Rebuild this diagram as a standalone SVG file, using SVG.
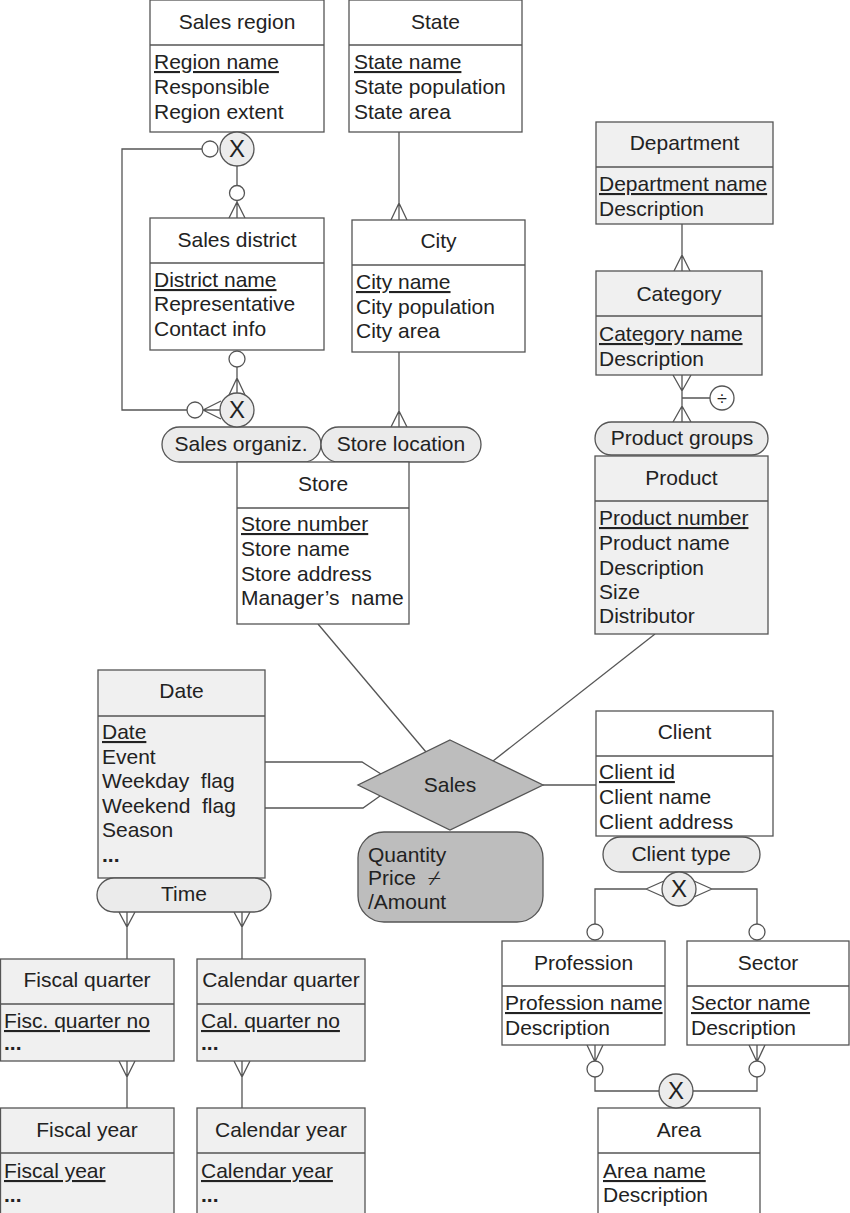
<svg xmlns="http://www.w3.org/2000/svg" width="850" height="1213" viewBox="0 0 850 1213">
<style>
.b{fill:#fff;stroke:#555;stroke-width:1.3}
.g{fill:#f0f0f0}
.t{font-family:"Liberation Sans",Arial,sans-serif;font-size:21px;fill:#222;white-space:pre}
.c{text-anchor:middle}
.k{text-decoration:underline}
.l{stroke:#555;stroke-width:1.3;fill:none}
.p{fill:#ebebeb;stroke:#555;stroke-width:1.3}
.x{fill:#ececec;stroke:#555;stroke-width:1.3}
.o{fill:#fff;stroke:#555;stroke-width:1.3}
.s{fill:#bdbdbd;stroke:#555;stroke-width:1.3}
.d{font-weight:bold}
.xt{font-size:24px}
</style>
<g id="connectors">
<path class="l" d="M237,166 V186 M237,200 V218 M229,218 L237,202 L245,218"/>
<path class="l" d="M202,149 H122 V410 H187"/>
<path class="l" d="M237,367 V393 M229,395 L237,378 L245,395"/>
<path class="l" d="M203,410 L221,401 M203,410 L221,419 M203,410 H220"/>
<path class="l" d="M399,132 V220 M391,220 L399,203 L407,220"/>
<path class="l" d="M399,352 V427 M391,427 L399,411 L407,427"/>
<path class="l" d="M682,224 V271 M674,271 L682,255 L690,271"/>
<path class="l" d="M682,375 V422 M673,375 L682,391 L691,375 M673,422 L682,406 L691,422 M682,398 H710"/>
<path class="l" d="M318,624 L426,752"/>
<path class="l" d="M655,634 L493,761"/>
<path class="l" d="M543,785 H596"/>
<path class="l" d="M265,762 H362 L381,774"/>
<path class="l" d="M265,808 H363 L380,796"/>
<path class="l" d="M127,912 V959 M119,912 L127,927 L135,912"/>
<path class="l" d="M242,912 V959 M234,912 L242,927 L250,912"/>
<path class="l" d="M127,1061 V1108 M119,1061 L127,1077 L135,1061"/>
<path class="l" d="M242,1061 V1108 M234,1061 L242,1077 L250,1061"/>
<path class="l" d="M646,889 H595 V924 M646,889 L664,881 M646,889 L664,897"/>
<path class="l" d="M712,889 H757 V924 M712,889 L694,881 M712,889 L694,897"/>
<path class="l" d="M595,1045 V1062 M587,1045 L595,1062 L603,1045 M595,1077 V1091 H659"/>
<path class="l" d="M757,1045 V1062 M749,1045 L757,1062 L765,1045 M757,1077 V1091 H693"/>
<circle class="o" cx="210" cy="149" r="8"/>
<circle class="o" cx="237" cy="193" r="7.5"/>
<circle class="o" cx="237" cy="359" r="8"/>
<circle class="o" cx="195" cy="410" r="8"/>
<circle class="o" cx="722" cy="398" r="12"/>
<text class="t c" x="722" y="405" style="font-size:18px">÷</text>
<circle class="o" cx="595" cy="932" r="8"/>
<circle class="o" cx="757" cy="932" r="8"/>
<circle class="o" cx="595" cy="1069" r="8"/>
<circle class="o" cx="757" cy="1069" r="8"/>
</g>
<g id="sales-region"><rect class="b" x="150" y="0" width="174" height="132"/><line class="l" x1="150" y1="45" x2="324" y2="45"/>
<text class="t c" x="237" y="29">Sales region</text><text class="t k" x="154" y="69">Region name</text><text class="t" x="154" y="94">Responsible</text><text class="t" x="154" y="119">Region extent</text></g>
<g id="state"><rect class="b" x="349" y="0" width="173" height="132"/><line class="l" x1="349" y1="45" x2="522" y2="45"/>
<text class="t c" x="435.5" y="29">State</text><text class="t k" x="354" y="69">State name</text><text class="t" x="354" y="94">State population</text><text class="t" x="354" y="119">State area</text></g>
<g id="department"><rect class="b g" x="596" y="122" width="177" height="102"/><line class="l" x1="596" y1="167" x2="773" y2="167"/>
<text class="t c" x="684.5" y="150">Department</text><text class="t k" x="599" y="191">Department name</text><text class="t" x="599" y="216">Description</text></g>
<g id="sales-district"><rect class="b" x="150" y="218" width="174" height="132"/><line class="l" x1="150" y1="263" x2="324" y2="263"/>
<text class="t c" x="237" y="247">Sales district</text><text class="t k" x="154" y="287">District name</text><text class="t" x="154" y="311">Representative</text><text class="t" x="154" y="336">Contact info</text></g>
<g id="city"><rect class="b" x="352" y="220" width="173" height="132"/><line class="l" x1="352" y1="265" x2="525" y2="265"/>
<text class="t c" x="438.5" y="248">City</text><text class="t k" x="356" y="289">City name</text><text class="t" x="356" y="314">City population</text><text class="t" x="356" y="338">City area</text></g>
<g id="category"><rect class="b g" x="596" y="271" width="166" height="104"/><line class="l" x1="596" y1="316" x2="762" y2="316"/>
<text class="t c" x="679" y="301">Category</text><text class="t k" x="599" y="341">Category name</text><text class="t" x="599" y="366">Description</text></g>
<g id="sales-organiz"><rect class="p" x="162" y="427" width="159" height="35" rx="17.5"/><text class="t c" x="241" y="451">Sales organiz.</text>
<circle class="x" cx="237" cy="410" r="17"/><text class="t c xt" x="237" y="418">X</text></g>
<g id="sales-region-x"><circle class="x" cx="237" cy="149" r="17"/><text class="t c xt" x="237" y="157">X</text></g>
<g id="store-location"><rect class="p" x="321" y="427" width="160" height="35" rx="17.5"/><text class="t c" x="401" y="451">Store location</text></g>
<g id="product-groups"><rect class="p" x="595" y="422" width="173" height="33" rx="16.5"/><text class="t c" x="682" y="445">Product groups</text></g>
<g id="store"><rect class="b" x="237" y="462" width="172" height="162"/><line class="l" x1="237" y1="508" x2="409" y2="508"/>
<text class="t c" x="323" y="491">Store</text><text class="t k" x="241" y="531">Store number</text><text class="t" x="241" y="556">Store name</text><text class="t" x="241" y="581">Store address</text><text class="t" x="241" y="605">Manager’s  name</text></g>
<g id="product"><rect class="b g" x="595" y="456" width="173" height="178"/><line class="l" x1="595" y1="501" x2="768" y2="501"/>
<text class="t c" x="681.5" y="485">Product</text><text class="t k" x="599" y="525">Product number</text><text class="t" x="599" y="550">Product name</text><text class="t" x="599" y="575">Description</text><text class="t" x="599" y="599">Size</text><text class="t" x="599" y="623">Distributor</text></g>
<g id="date"><rect class="b g" x="98" y="670" width="167" height="208"/><line class="l" x1="98" y1="716" x2="265" y2="716"/>
<text class="t c" x="181.5" y="698">Date</text><text class="t k" x="102" y="739">Date</text><text class="t" x="102" y="764">Event</text><text class="t" x="102" y="788">Weekday  flag</text><text class="t" x="102" y="813">Weekend  flag</text><text class="t" x="102" y="837">Season</text><text class="t d" x="102" y="862">...</text></g>
<g id="time"><rect class="p" x="97" y="878" width="174" height="34" rx="17"/><text class="t c" x="184" y="901">Time</text></g>
<g id="sales"><polygon class="s" points="450,740 543,785 450,830 358,785"/><text class="t c" x="450" y="792">Sales</text>
<rect class="s" x="358" y="832" width="185" height="90" rx="26"/>
<text class="t" x="368" y="862">Quantity</text><text class="t" x="368" y="885">Price  ⌿</text><text class="t" x="368" y="909">/Amount</text></g>
<g id="client"><rect class="b" x="596" y="711" width="177" height="125"/><line class="l" x1="596" y1="756" x2="773" y2="756"/>
<text class="t c" x="684.5" y="739">Client</text><text class="t k" x="599" y="779">Client id</text><text class="t" x="599" y="804">Client name</text><text class="t" x="599" y="829">Client address</text></g>
<g id="client-type"><rect class="p" x="603" y="837" width="157" height="35" rx="17.5"/><text class="t c" x="681" y="861">Client type</text>
<circle class="x" cx="679" cy="889" r="17"/><text class="t c xt" x="679" y="897">X</text></g>
<g id="profession"><rect class="b" x="502" y="941" width="163" height="104"/><line class="l" x1="502" y1="986" x2="665" y2="986"/>
<text class="t c" x="583.5" y="970">Profession</text><text class="t k" x="505" y="1010">Profession name</text><text class="t" x="505" y="1035">Description</text></g>
<g id="sector"><rect class="b" x="687" y="941" width="162" height="104"/><line class="l" x1="687" y1="986" x2="849" y2="986"/>
<text class="t c" x="768" y="970">Sector</text><text class="t k" x="691" y="1010">Sector name</text><text class="t" x="691" y="1035">Description</text></g>
<g id="fiscal-quarter"><rect class="b g" x="0.5" y="959" width="173.5" height="102"/><line class="l" x1="0" y1="1004" x2="174" y2="1004"/>
<text class="t c" x="87" y="987">Fiscal quarter</text><text class="t k" x="4" y="1028">Fisc. quarter no</text><text class="t d" x="4" y="1050">...</text></g>
<g id="calendar-quarter"><rect class="b g" x="197" y="959" width="168" height="102"/><line class="l" x1="197" y1="1004" x2="365" y2="1004"/>
<text class="t c" x="281" y="987">Calendar quarter</text><text class="t k" x="201" y="1028">Cal. quarter no</text><text class="t d" x="201" y="1050">...</text></g>
<g id="fiscal-year"><rect class="b g" x="0.5" y="1108" width="173.5" height="106"/><line class="l" x1="0" y1="1153" x2="174" y2="1153"/>
<text class="t c" x="87" y="1137">Fiscal year</text><text class="t k" x="4" y="1178">Fiscal year</text><text class="t d" x="4" y="1202">...</text></g>
<g id="calendar-year"><rect class="b g" x="197" y="1108" width="168" height="106"/><line class="l" x1="197" y1="1153" x2="365" y2="1153"/>
<text class="t c" x="281" y="1137">Calendar year</text><text class="t k" x="201" y="1178">Calendar year</text><text class="t d" x="201" y="1202">...</text></g>
<g id="area"><rect class="b" x="598" y="1108" width="162" height="106"/><line class="l" x1="598" y1="1153" x2="760" y2="1153"/>
<text class="t c" x="679" y="1137">Area</text><text class="t k" x="603" y="1178">Area name</text><text class="t" x="603" y="1202">Description</text>
<circle class="x" cx="676" cy="1091" r="17"/><text class="t c xt" x="676" y="1099">X</text></g>
</svg>
